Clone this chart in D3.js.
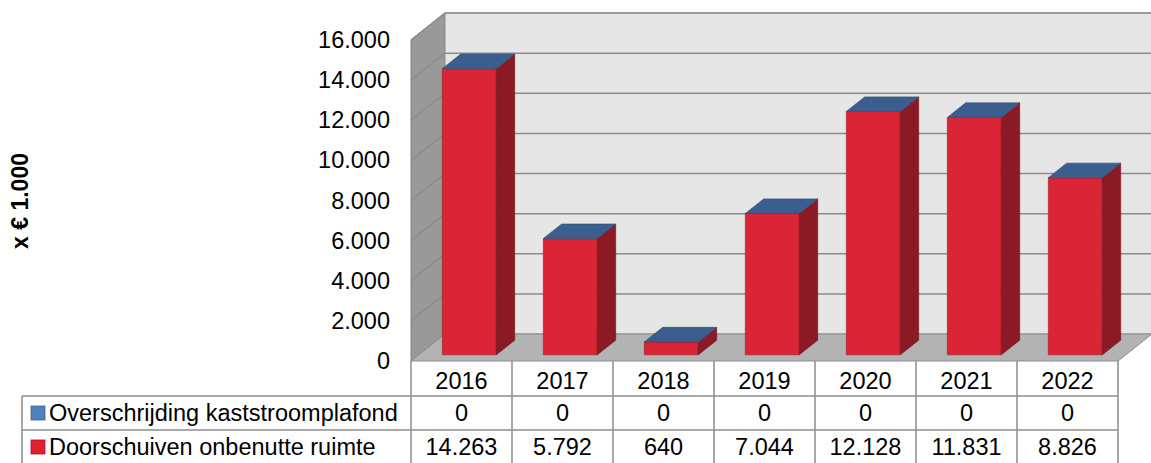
<!DOCTYPE html>
<html>
<head>
<meta charset="utf-8">
<script src="https://cdn.jsdelivr.net/npm/d3@7"></script>
<style>
  body { margin: 0; background: #fff; }
  text { font-family: "Liberation Sans", Arial, sans-serif; fill: #000; }
</style>
</head>
<body>
<div id="chart"></div>
<script>
const years = ["2016", "2017", "2018", "2019", "2020", "2021", "2022"];
const overschrijding = [0, 0, 0, 0, 0, 0, 0];
const doorschuiven = [14263, 5792, 640, 7044, 12128, 11831, 8826];
const yTicks = [0, 2000, 4000, 6000, 8000, 10000, 12000, 14000, 16000];
const seriesNames = ["Overschrijding kaststroomplafond", "Doorschuiven onbenutte ruimte"];
const yTitle = "x € 1.000";

const W = 1151, H = 463;
const left = 411, right = 1118;
const depthX = 34, depthY = -27;   // 3d depth of the floor
const barFront = 0.23, barBack = 0.77;  // bar position in the depth
const fontSize = "23.5px";

const nl = d3.formatLocale({ decimal: ",", thousands: ".", grouping: [3], currency: ["€ ", ""] });
const fmt = nl.format(",d");

const svg = d3.select("#chart")
  .append("svg")
  .attr("width", W)
  .attr("height", H);

const x = d3.scaleBand()
  .domain(years)
  .range([left, right]);

const y = d3.scaleLinear()
  .domain([0, 16000])
  .range([361, 40]);

const line = d3.line();

// walls
svg.append("path")
  .attr("d", line([[left, y(0)], [left + depthX, y(0) + depthY], [left + depthX, y(16000) + depthY], [left, y(16000)]]) + "Z")
  .attr("fill", "#999999")
  .attr("stroke", "#808080");

svg.append("path")
  .attr("d", line([[left + depthX, y(0) + depthY], [W + 5, y(0) + depthY], [W + 5, y(16000) + depthY], [left + depthX, y(16000) + depthY]]) + "Z")
  .attr("fill", "#e6e6e6")
  .attr("stroke", "#8c8c8c");

svg.append("path")
  .attr("d", line([[left, y(0)], [right, y(0)], [right + depthX, y(0) + depthY], [left + depthX, y(0) + depthY]]) + "Z")
  .attr("fill", "#b3b3b3")
  .attr("stroke", "#8c8c8c");

// gridlines
svg.append("g")
  .selectAll("path")
  .data(yTicks.filter(d => d > 0))
  .join("path")
  .attr("d", d => line([[left, y(d)], [left + depthX, y(d) + depthY], [W + 5, y(d) + depthY]]))
  .attr("fill", "none")
  .attr("stroke", "#8c8c8c")
  .attr("stroke-width", 1.5);

// y axis labels
const yAxis = svg.append("g")
  .attr("transform", `translate(${left},0)`)
  .call(d3.axisLeft(y).tickValues(yTicks).tickFormat(fmt).tickSize(0).tickPadding(21));
yAxis.select(".domain").remove();
yAxis.selectAll("text")
  .style("font-family", "'Liberation Sans', Arial, sans-serif")
  .style("font-size", fontSize)
  .attr("fill", "#000");

svg.append("text")
  .attr("transform", "translate(28,201) rotate(-90)")
  .attr("text-anchor", "middle")
  .style("font-size", "23px")
  .style("font-weight", "bold")
  .text(yTitle);

// bars
const bw = x.bandwidth() * 0.535;
const fx = depthX * barFront, fy = depthY * barFront;
const bdx = depthX * (barBack - barFront), bdy = depthY * (barBack - barFront);

const bars = svg.append("g")
  .selectAll("g")
  .data(years.map((yr, i) => ({ yr, red: doorschuiven[i], blue: overschrijding[i] })))
  .join("g");

bars.append("path")  // front
  .attr("d", d => {
    const x0 = x(d.yr) + (x.bandwidth() - bw) / 2 + fx;
    const yb = y(0) + fy, yt = y(d.red + d.blue) + fy;
    return line([[x0, yb], [x0 + bw, yb], [x0 + bw, yt], [x0, yt]]) + "Z";
  })
  .attr("fill", "#d92536")
  .attr("stroke", "#a01c28")
  .attr("stroke-width", 0.6);

bars.append("path")  // side
  .attr("d", d => {
    const x1 = x(d.yr) + (x.bandwidth() + bw) / 2 + fx;
    const yb = y(0) + fy, yt = y(d.red + d.blue) + fy;
    return line([[x1, yb], [x1 + bdx, yb + bdy], [x1 + bdx, yt + bdy], [x1, yt]]) + "Z";
  })
  .attr("fill", "#8c1a25")
  .attr("stroke", "#6e141d")
  .attr("stroke-width", 0.6);

bars.append("path")  // top (zero-height blue series)
  .attr("d", d => {
    const x0 = x(d.yr) + (x.bandwidth() - bw) / 2 + fx;
    const yt = y(d.red + d.blue) + fy;
    return line([[x0, yt], [x0 + bw, yt], [x0 + bw + bdx, yt + bdy], [x0 + bdx, yt + bdy]]) + "Z";
  })
  .attr("fill", "#3a5f8f")
  .attr("stroke", "#2c4a70")
  .attr("stroke-width", 0.6);

// data table
const rowTop = [361, 396, 430];
const rowBottom = 470;
const tableLeft = 22;
const grid = svg.append("g")
  .attr("stroke", "#8c8c8c")
  .attr("stroke-width", 1.5);

grid.selectAll("line.v")
  .data(years.map(d => x(d)).concat([right]))
  .join("line")
  .attr("class", "v")
  .attr("x1", d => d).attr("x2", d => d)
  .attr("y1", rowTop[0]).attr("y2", rowBottom);

grid.append("line")
  .attr("x1", tableLeft).attr("x2", tableLeft)
  .attr("y1", rowTop[1]).attr("y2", rowBottom);

grid.selectAll("line.h")
  .data(rowTop.slice(1))
  .join("line")
  .attr("class", "h")
  .attr("x1", tableLeft).attr("x2", right)
  .attr("y1", d => d).attr("y2", d => d);

svg.append("g")
  .selectAll("text")
  .data(years)
  .join("text")
  .attr("x", d => x(d) + x.bandwidth() / 2)
  .attr("y", 381)
  .attr("dy", "0.35em")
  .attr("text-anchor", "middle")
  .style("font-size", fontSize)
  .text(d => d);

const rows = [
  { name: seriesNames[0], values: overschrijding, color: "#4f81bd", stroke: "#3a6595", cy: 413 },
  { name: seriesNames[1], values: doorschuiven, color: "#e0202f", stroke: "#a8141f", cy: 447 }
];

rows.forEach(r => {
  svg.append("rect")
    .attr("x", 31).attr("y", r.cy - 7)
    .attr("width", 14).attr("height", 14)
    .attr("fill", r.color)
    .attr("stroke", r.stroke)
    .attr("stroke-width", 0.8);
  svg.append("text")
    .attr("x", 49).attr("y", r.cy)
    .attr("dy", "0.35em")
    .style("font-size", fontSize)
    .text(r.name);
  svg.append("g")
    .selectAll("text")
    .data(r.values)
    .join("text")
    .attr("x", (d, i) => x(years[i]) + x.bandwidth() / 2)
    .attr("y", r.cy)
    .attr("dy", "0.35em")
    .attr("text-anchor", "middle")
    .style("font-size", fontSize)
    .text(d => fmt(d));
});
</script>
</body>
</html>
